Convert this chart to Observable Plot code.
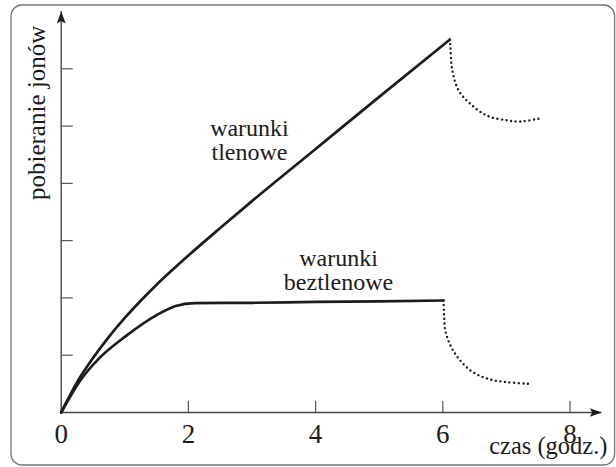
<!DOCTYPE html>
<html><head><meta charset="utf-8">
<script src="https://cdn.jsdelivr.net/npm/d3@7"></script>
<script src="https://cdn.jsdelivr.net/npm/@observablehq/plot@0.6"></script>
<style>
body{margin:0;background:#fff}
svg{display:block}
svg text{font-family:"Liberation Serif","DejaVu Serif",serif !important;}
</style>
</head><body><div id="chart"></div>
<script>
// tick values
const xTicks = [0, 2, 4, 6, 8];
const yTicks = [1, 2, 3, 4, 5, 6];

// aerobic conditions (warunki tlenowe) – solid part
const aerobicX = [0, 0.1, 0.25, 0.5, 0.75, 1.0, 1.25, 1.5, 1.75, 2.0, 2.5, 3.0, 4.0, 5.0, 6.11];
const aerobicY = [0, 0.22, 0.53, 0.95, 1.32, 1.65, 1.95, 2.23, 2.49, 2.74, 3.22, 3.69, 4.60, 5.51, 6.51];
// aerobic – dotted part after 6 h
const aerobicAfterX = [6.11, 6.12, 6.15, 6.25, 6.43, 6.70, 7.01, 7.22, 7.51];
const aerobicAfterY = [6.51, 6.38, 5.97, 5.62, 5.39, 5.18, 5.10, 5.08, 5.13];

// anaerobic conditions (warunki beztlenowe) – solid part
const anaerobicX = [0, 0.3, 0.6, 1.0, 1.5, 1.8, 2.1, 3.0, 4.0, 5.0, 6.01];
const anaerobicY = [0, 0.56, 0.95, 1.32, 1.70, 1.86, 1.91, 1.915, 1.93, 1.94, 1.955];
// anaerobic – dotted part after 6 h
const anaerobicAfterX = [6.01, 6.02, 6.04, 6.12, 6.25, 6.44, 6.70, 7.01, 7.38];
const anaerobicAfterY = [1.955, 1.72, 1.43, 1.17, 0.94, 0.73, 0.59, 0.53, 0.50];

// texts
const yLabel = "pobieranie jonów";
const xLabel = "czas (godz.)";
const curveLabels = ["warunki\ntlenowe", "warunki\nbeztlenowe"];

const toPts = (xs, ys) => xs.map((x, i) => ({x, y: ys[i]}));

const W = 616, H = 467;
const mL = 60.7, mR = 14.7, mT = 11, mB = 55;
const plotW = W - mL - mR, plotH = H - mT - mB;

const arrowUp = {draw(ctx) { ctx.moveTo(0, 0); ctx.lineTo(-4.5, 12); ctx.lineTo(0, 9.5); ctx.lineTo(4.5, 12); ctx.closePath(); }};
const arrowRight = {draw(ctx) { ctx.moveTo(0, 0); ctx.lineTo(-12, -4.2); ctx.lineTo(-9.5, 0); ctx.lineTo(-12, 4.2); ctx.closePath(); }};

const ink = "#1c1c1c";
const serif = "Liberation Serif, DejaVu Serif, serif";

const chart = Plot.plot({
  width: W, height: H,
  marginLeft: mL, marginRight: mR, marginTop: mT, marginBottom: mB,
  x: {domain: [0, 8.5], axis: null},
  y: {domain: [0, 7], axis: null},
  style: {fontFamily: serif, background: "#fff", color: ink},
  marks: [
    Plot.frame({rx: 11, stroke: "#777", strokeWidth: 1.3, insetLeft: -50.2, insetTop: -6.5, insetRight: -12.8, insetBottom: -52.5}),
    // axis lines
    Plot.ruleY([0], {stroke: "#444", strokeWidth: 1.4}),
    Plot.ruleX([0], {stroke: "#444", strokeWidth: 1.4}),
    // tick marks (inward)
    Plot.ruleX(xTicks.filter(d => d !== 0), {stroke: "#555", strokeWidth: 1.2, insetTop: plotH - 11}),
    Plot.ruleY(yTicks, {stroke: "#555", strokeWidth: 1.2, insetRight: plotW - 12}),
    // arrowheads
    Plot.dot([0], {x: 0, y: 7, symbol: arrowUp, r: 5, fill: ink, stroke: null}),
    Plot.dot([0], {x: 8.5, y: 0, symbol: arrowRight, r: 5, fill: ink, stroke: null}),
    // tick labels
    Plot.text(xTicks, {x: d => d, y: 0, text: d => String(d), dy: 30, lineAnchor: "bottom", fontSize: 27, fontFamily: serif, fill: ink}),
    // axis labels
    Plot.text([yLabel], {x: -0.25, y: 5.23, text: d => d, rotate: -90, lineAnchor: "bottom", fontSize: 25, fontFamily: serif, fill: ink}),
    Plot.text([xLabel], {x: 8.59, y: -0.72, text: d => d, textAnchor: "end", lineAnchor: "bottom", fontSize: 24.5, fontFamily: serif, fill: ink}),
    // curves
    Plot.line(toPts(aerobicX, aerobicY), {x: "x", y: "y", curve: "monotone-x", stroke: ink, strokeWidth: 2.7}),
    Plot.line(toPts(anaerobicX, anaerobicY), {x: "x", y: "y", curve: "monotone-x", stroke: ink, strokeWidth: 2.7}),
    Plot.line(toPts(aerobicAfterX, aerobicAfterY), {x: "x", y: "y", curve: "catmull-rom", stroke: ink, strokeWidth: 2.4, strokeDasharray: "0 4.6", strokeLinecap: "round"}),
    Plot.line(toPts(anaerobicAfterX, anaerobicAfterY), {x: "x", y: "y", curve: "catmull-rom", stroke: ink, strokeWidth: 2.4, strokeDasharray: "0 4.6", strokeLinecap: "round"}),
    // curve labels
    Plot.text([{t: curveLabels[0], x: 2.96, y: 4.41}, {t: curveLabels[1], x: 4.36, y: 2.14}],
      {x: "x", y: "y", text: "t", lineAnchor: "bottom", lineHeight: 0.98, fontSize: 24, fontFamily: serif, fill: ink})
  ]
});
document.getElementById("chart").appendChild(chart);
</script>
</body></html>
